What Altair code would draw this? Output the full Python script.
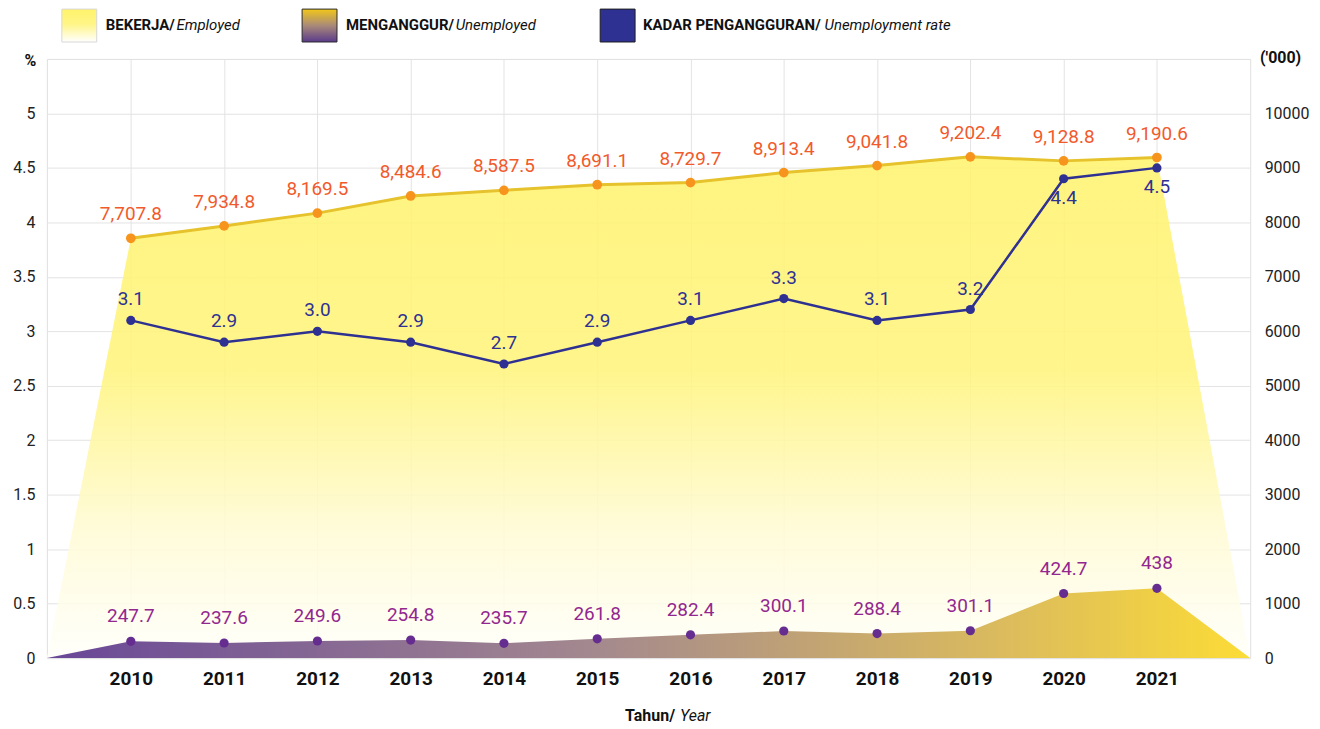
import altair as alt
import pandas as pd

# ---------------- data ----------------
years = [2010, 2011, 2012, 2013, 2014, 2015, 2016, 2017, 2018, 2019, 2020, 2021]
employed = [7707.8, 7934.8, 8169.5, 8484.6, 8587.5, 8691.1, 8729.7, 8913.4, 9041.8, 9202.4, 9128.8, 9190.6]
unemployed = [247.7, 237.6, 249.6, 254.8, 235.7, 261.8, 282.4, 300.1, 288.4, 301.1, 424.7, 438]
rate = [3.1, 2.9, 3.0, 2.9, 2.7, 2.9, 3.1, 3.3, 3.1, 3.2, 4.4, 4.5]
edge_years = [2009.1, 2022.0]          # plot edges, where the areas fall to zero
edge_values = [0, 0]
rate_ticks = [0, 0.5, 1, 1.5, 2, 2.5, 3, 3.5, 4, 4.5, 5]
count_ticks = [0, 1000, 2000, 3000, 4000, 5000, 6000, 7000, 8000, 9000, 10000]

df = pd.DataFrame({"year": years, "employed": employed, "unemployed": unemployed, "rate": rate})
area_df = pd.concat([
    pd.DataFrame({"year": edge_years[:1], "employed": edge_values[:1], "unemployed": edge_values[:1]}),
    df[["year", "employed", "unemployed"]],
    pd.DataFrame({"year": edge_years[1:], "employed": edge_values[1:], "unemployed": edge_values[1:]}),
], ignore_index=True)

FONT = "Roboto"
GRID = "#e3e3e3"

X = alt.X("year:Q",
          scale=alt.Scale(domain=edge_years, nice=False, zero=False),
          axis=alt.Axis(values=years, format="d", grid=True, gridColor=GRID, domain=False,
                        ticks=False, labelFontSize=19, labelFontWeight="bold", labelColor="#111",
                        labelPadding=11, labelFont=FONT, title=None))

Y_count = alt.Y("employed:Q",
                scale=alt.Scale(domain=[0, 11000], nice=False),
                axis=alt.Axis(orient="right", values=count_ticks, format="d", grid=False,
                              domain=False, ticks=False, labelFontSize=16, labelColor="#222",
                              labelPadding=14, labelFont=FONT, title="('000)", titleAngle=0,
                              titleX=30, titleY=-1, titleAlign="center", titleBaseline="middle",
                              titleFontSize=16, titleFontWeight="bold", titleFont=FONT,
                              titleColor="#111"))

Y_unemp = alt.Y("unemployed:Q",
                scale=alt.Scale(type="pow", exponent=2.5, domain=[0, 1035], nice=False),
                axis=None)

Y_rate = alt.Y("rate:Q",
               scale=alt.Scale(domain=[0, 5.5], nice=False),
               axis=alt.Axis(orient="left", values=rate_ticks, format="~g", grid=True,
                             gridColor=GRID, domain=False, ticks=False, labelFontSize=16,
                             labelColor="#222", labelPadding=12, labelFont=FONT, title="%",
                             titleAngle=0, titleX=-17, titleY=2, titleAlign="center",
                             titleBaseline="middle", titleFontSize=16, titleFontWeight="bold",
                             titleFont=FONT, titleColor="#111"))

def grad(stops, horizontal=False):
    return alt.LinearGradient(
        gradient="linear",
        stops=[alt.GradientStop(color=c, offset=o) for o, c in stops],
        x1=0, x2=1 if horizontal else 0, y1=0, y2=0 if horizontal else 1)

emp_grad = grad([(0, "#fff36f"), (0.42, "#fff47c"), (0.75, "#fffbd6"), (1, "#fffffa")])
unemp_grad = grad([(0, "#684797"), (0.45, "#a3888f"), (0.8, "#dcbc5c"), (1, "#fcdc36")], horizontal=True)

# ---------------- employed ----------------
emp_area = alt.Chart(area_df).mark_area(fill=emp_grad, fillOpacity=0.88, strokeWidth=0).encode(x=X, y=Y_count)
emp_line = alt.Chart(df).mark_line(color="#e6c22c", strokeWidth=3).encode(x=X, y=Y_count)
emp_pts = alt.Chart(df).mark_point(filled=True, size=95, color="#f7941d", opacity=1).encode(x=X, y=Y_count)
emp_lbl = alt.Chart(df).mark_text(dy=-24, fontSize=19, font=FONT, color="#f15a2b").encode(
    x=X, y=Y_count, text=alt.Text("employed:Q", format=",.1f"))
emp_layer = alt.layer(emp_area, emp_line, emp_pts, emp_lbl)

# ---------------- unemployed ----------------
un_area = alt.Chart(area_df).mark_area(fill=unemp_grad, strokeWidth=0).encode(x=X, y=Y_unemp)
un_pts = alt.Chart(df).mark_point(filled=True, size=85, color="#662d91", opacity=1).encode(x=X, y=Y_unemp)
un_lbl = alt.Chart(df).mark_text(dy=-25, fontSize=19, font=FONT, color="#92278f").encode(
    x=X, y=Y_unemp, text=alt.Text("unemployed:Q", format=".1~f"))
un_layer = alt.layer(un_area, un_pts, un_lbl)

# ---------------- unemployment rate ----------------
rt_line = alt.Chart(df).mark_line(color="#2e3192", strokeWidth=2.5).encode(x=X, y=Y_rate)
rt_pts = alt.Chart(df).mark_point(filled=True, size=85, color="#2e3192", opacity=1).encode(x=X, y=Y_rate)
rt_lbl_up = alt.Chart(df).transform_filter("datum.year < 2020").mark_text(
    dy=-21, fontSize=19, font=FONT, color="#2e3192").encode(
    x=X, y=Y_rate, text=alt.Text("rate:Q", format=".1f"))
rt_lbl_dn = alt.Chart(df).transform_filter("datum.year >= 2020").mark_text(
    dy=19, fontSize=19, font=FONT, color="#2e3192").encode(
    x=X, y=Y_rate, text=alt.Text("rate:Q", format=".1f"))
rt_layer = alt.layer(rt_line, rt_pts, rt_lbl_up, rt_lbl_dn)

# ---------------- legend & x title ----------------
one = pd.DataFrame({"k": [0]})

def swatch(x0, fill, stroke):
    return alt.Chart(one).mark_rect(fill=fill, stroke=stroke, strokeWidth=1).encode(
        x=alt.value(x0), x2=alt.value(x0 + 35), y=alt.value(-50), y2=alt.value(-17))

def txt(x0, y0, s, weight="normal", style="normal", size=15):
    return alt.Chart(one).mark_text(text=s, font=FONT, fontSize=size, fontWeight=weight,
                                    fontStyle=style, align="left", baseline="middle",
                                    color="#111").encode(x=alt.value(x0), y=alt.value(y0))

sw1 = swatch(15, grad([(0, "#fff36a"), (0.45, "#fff586"), (1, "#ffffff")]), "#d8d8d8")
sw2 = swatch(256, grad([(0, "#f3c71a"), (0.5, "#a98a78"), (1, "#5a3a8c")]), "#2a2a2a")
sw3 = swatch(555, "#2e3192", "#1d1d1d")

legend = [
    sw1, txt(59, -34, "BEKERJA/", weight="bold"), txt(130, -34, "Employed", style="italic"),
    sw2, txt(300, -34, "MENGANGGUR/", weight="bold"), txt(410, -34, "Unemployed", style="italic"),
    sw3, txt(598, -34, "KADAR PENGANGGURAN/", weight="bold"), txt(780, -34, "Unemployment rate", style="italic"),
    txt(580, 659, "Tahun/", weight="bold", size=16), txt(635, 659, "Year", style="italic", size=16),
]

chart = alt.layer(emp_layer, un_layer, rt_layer, *legend).resolve_scale(y="independent").properties(
    width=1207, height=601,
    autosize=alt.AutoSizeParams(type="none"),
    padding={"left": 39, "top": 50, "right": 62, "bottom": 68},
    background="white",
).configure_view(stroke="#e0e0e0")

chart.save("out.html", embed_options={"renderer": "svg", "actions": False})
